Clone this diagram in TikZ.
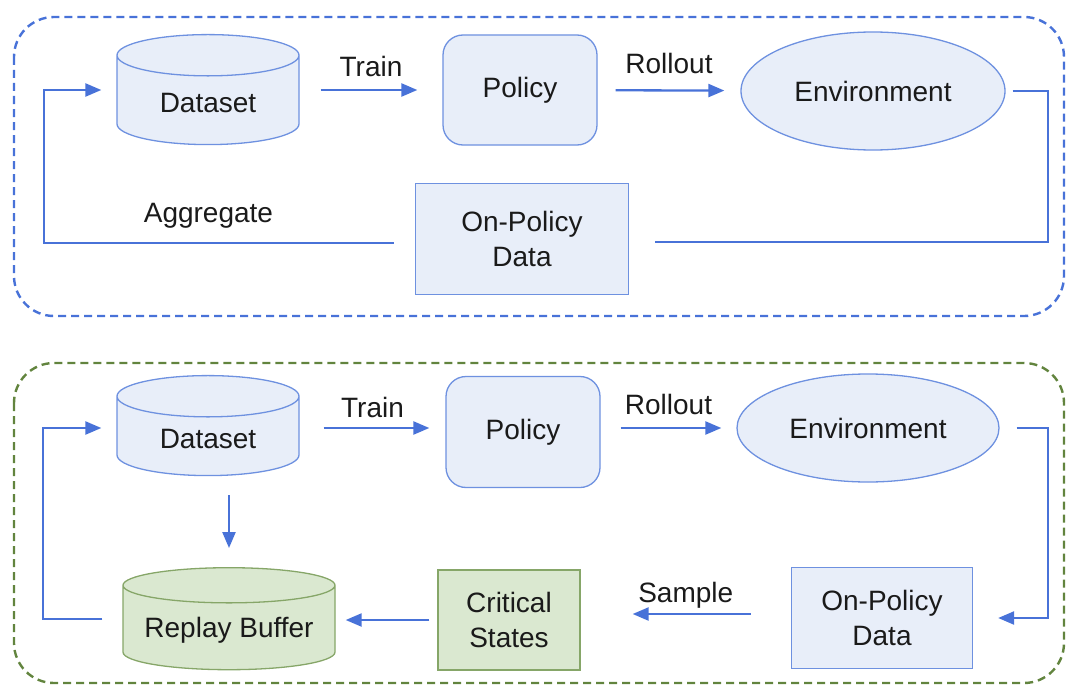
\documentclass[tikz,border=0pt]{standalone}
\usepackage{fontspec}
\setmainfont{Liberation Sans}
\usetikzlibrary{shapes.geometric,arrows.meta}

\definecolor{flowblue}{RGB}{72,114,216}
\definecolor{edgeblue}{RGB}{110,145,224}
\definecolor{fillblue}{RGB}{232,238,249}
\definecolor{fillgreen}{RGB}{218,232,208}
\definecolor{edgegreen}{RGB}{134,166,104}
\definecolor{framegreen}{RGB}{98,132,62}
\definecolor{ink}{RGB}{26,26,26}

\tikzset{
  box/.style={draw=edgeblue, fill=fillblue, line width=1.3pt, text=ink,
    align=center, font=\fontsize{28}{35}\selectfont},
  dbnode/.style={box, cylinder, shape border rotate=90, aspect=0.4},
  polnode/.style={box, rectangle, rounded corners=20pt},
  envnode/.style={box, ellipse, inner sep=0pt},
  datanode/.style={box, rectangle},
  greennode/.style={draw=edgegreen, fill=fillgreen},
  frame/.style={line width=2.4pt, dash pattern=on 8pt off 5pt, rounded corners=40pt},
  link/.style={draw=flowblue, line width=2.3pt},
  flow/.style={link, -{Triangle[length=16pt,width=13pt]}},
  lbl/.style={text=ink, font=\fontsize{28}{35}\selectfont}
}

\begin{document}
\begin{tikzpicture}[x=1pt,y=-1pt]
  \useasboundingbox (0,0) rectangle (1066,685);

  % DAgger loop
  \draw[frame, flowblue] (14,17) rectangle (1064,316);
  \node[dbnode, minimum width=182pt, minimum height=110pt] (data1) at (208,103) {Dataset};
  \node[polnode, minimum width=154pt, minimum height=110pt] (pol1) at (520,90) {Policy};
  \node[envnode, minimum width=264pt, minimum height=118pt] (env1) at (873,91) {Environment};
  \node[datanode, minimum width=213pt, minimum height=111pt] (opd1) at (522,239) {On-Policy\\Data};

  \draw[flow, shorten <=21pt, shorten >=25pt] (data1.east |- pol1) -- node[lbl, above=9pt] {Train} (pol1);
  \draw[flow, shorten <=18pt, shorten >=16pt] (pol1) -- node[lbl, above=12pt] {Rollout} (env1);
  \coordinate (r1) at (1048,242);
  \coordinate (l1) at (44,243);
  \draw[link] ([xshift=7pt]env1.east) -| (r1) -- ([xshift=26pt]opd1.east |- r1);
  \draw[flow] ([xshift=-21pt]opd1.west |- l1) -- node[lbl, pos=0.53, above=10pt] {Aggregate} (l1)
    |- ([xshift=-15pt]data1.west |- pol1);

  % loop with replay of critical states
  \draw[frame, framegreen] (14,363) rectangle (1064,683);
  \node[dbnode, minimum width=182pt, minimum height=100pt] (data2) at (208,439) {Dataset};
  \node[polnode, minimum width=154pt, minimum height=111pt] (pol2) at (523,432) {Policy};
  \node[envnode, minimum width=262pt, minimum height=108pt] (env2) at (868,428) {Environment};
  \node[datanode, minimum width=181pt, minimum height=101pt] (opd2) at (882,618) {On-Policy\\Data};
  \node[datanode, greennode, minimum width=142pt, minimum height=100pt] (crit) at (509,620) {Critical\\States};
  \node[dbnode, greennode, minimum width=212pt, minimum height=102pt, aspect=0.2] (replay) at (229,630) {Replay Buffer};

  \draw[flow, shorten <=24pt, shorten >=16pt] (data2.east |- env2) -- node[lbl, above=6pt] {Train} (pol2.west |- env2);
  \draw[flow, shorten <=20pt, shorten >=15pt] (pol2.east |- env2) -- node[lbl, above=9pt] {Rollout} (env2);
  \draw[flow, shorten <=19pt, shorten >=19pt] (data2.south -| replay) -- (replay.north);
  \coordinate (r2) at (1048,428);
  \draw[flow] ([xshift=17pt]env2.east) -- (r2) |- ([xshift=25pt]opd2.east);
  \draw[flow, shorten <=40pt, shorten >=52pt] ([yshift=4pt]opd2.west) -- node[lbl, above=1pt] {Sample} ([yshift=4pt]opd2.west -| crit.east);
  \draw[flow, shorten <=8pt, shorten >=10pt] (crit.west) -- (replay.east |- crit);
  \coordinate (l2) at (43,619);
  \draw[flow] ([xshift=-20pt]replay.west |- l2) -- (l2) |- ([xshift=-15pt]data2.west |- env2);
\end{tikzpicture}
\end{document}
